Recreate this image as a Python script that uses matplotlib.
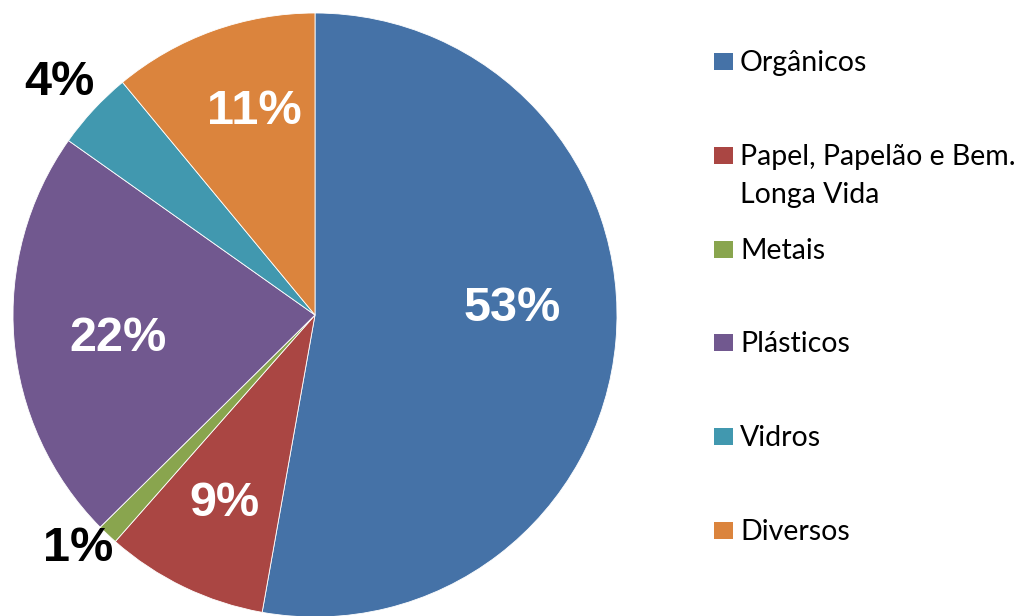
import matplotlib.pyplot as plt
from matplotlib.patches import Rectangle
import numpy as np

# Composição do lixo (%)
categorias = ["Orgânicos", "Papel, Papelão e Bem.\nLonga Vida", "Metais",
              "Plásticos", "Vidros", "Diversos"]
valores = [52.8, 8.7, 1.1, 22.2, 4.2, 11.0]
rotulos = ["53%", "9%", "1%", "22%", "4%", "11%"]

cores = ["#4572A7", "#AA4643", "#89A54E", "#71588F", "#4198AF", "#DB843D"]
# posição dos rótulos: distância radial e desvio angular (horário, graus)
dist_rotulo = [0.653, 0.689, 1.098, 0.656, 1.149, 0.706]
desvio_rotulo = [-7.2, 0.0, 2.3, -1.7, -0.4, 3.4]
cor_rotulo = ["white", "white", "black", "white", "black", "white"]

W, H = 1019, 616
fig = plt.figure(figsize=(W / 100, H / 100), dpi=100)

cx, cy, r = 315, 315, 302
ax = fig.add_axes([(cx - r) / W, (H - cy - r) / H, 2 * r / W, 2 * r / H])
wedges, _ = ax.pie(valores, colors=cores, startangle=90, counterclock=False,
                   radius=1, wedgeprops=dict(linewidth=0.6, edgecolor="white"))
ax.set_xlim(-1, 1)
ax.set_ylim(-1, 1)
ax.set_aspect("equal")
ax.axis("off")

for w, txt, d, dv, c in zip(wedges, rotulos, dist_rotulo, desvio_rotulo, cor_rotulo):
    ang = np.deg2rad((w.theta1 + w.theta2) / 2 - dv)
    ax.text(d * np.cos(ang), d * np.sin(ang) - 0.046, txt, ha="center",
            va="baseline", color=c, fontsize=35, fontweight="bold",
            family="Liberation Sans")

# legenda
y0, passo = 61, 93.8
for i, (cat, cor) in enumerate(zip(categorias, cores)):
    yc = y0 + i * passo
    fig.patches.append(Rectangle((714 / W, 1 - (yc + 9) / H), 19 / W, 17 / H,
                                 transform=fig.transFigure, facecolor=cor,
                                 edgecolor="none"))
    for k, linha in enumerate(cat.split("\n")):
        fig.text(740 / W, 1 - (yc + 10 + k * 38) / H, linha, ha="left",
                 va="baseline", fontsize=20.5, family="Lato", color="black")

fig.savefig("out.png", dpi=100)
